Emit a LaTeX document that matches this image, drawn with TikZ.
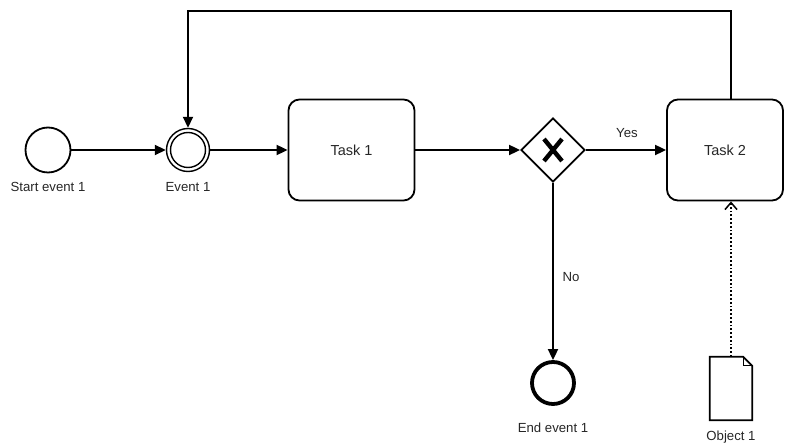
\documentclass[tikz,border=0pt]{standalone}
\usepackage{fontspec}
\setmainfont{Liberation Sans}
\usetikzlibrary{arrows.meta,shapes.geometric,calc}
\begin{document}
\begin{tikzpicture}[x=1pt,y=-1pt,
  flow/.style={line width=1.8pt,-{Triangle[length=11pt,width=10pt]}},
  lbl/.style={font=\fontsize{13.2}{15}\selectfont,text=black!85,inner sep=1pt},
  taskbox/.style={draw,line width=1.8pt,rounded corners=11pt,font=\fontsize{14.5}{16}\selectfont,text=black!85,inner sep=0pt},
  evt/.style={circle,draw,inner sep=0pt}]
\useasboundingbox (0,0) rectangle (785,443);
% nodes
\node[evt,line width=1.8pt,minimum size=45pt] (start) at (48,150) {};
\node[lbl] (startlbl) at (48,187) {Start event 1};
\node[evt,line width=1.4pt,minimum size=43pt] (ev1) at (188,150) {};
\node[evt,line width=1.4pt,minimum size=35pt] (ev1in) at (188,150) {};
\node[lbl] (ev1lbl) at (188,187) {Event 1};
\node[taskbox,minimum width=126pt,minimum height=101pt] (task1) at (351.5,150) {Task 1};
\node[diamond,draw,line width=1.8pt,minimum width=64pt,minimum height=64pt,inner sep=0pt] (gw) at (553,150) {};
\node[taskbox,minimum width=116pt,minimum height=101pt] (task2) at (725,150) {Task 2};
\node[evt,line width=3.8pt,minimum size=42pt] (end) at (553,383) {};
\node[lbl] (endlbl) at (553,428) {End event 1};
\node[minimum width=42pt,minimum height=63pt,inner sep=0pt] (obj) at (731,388.5) {};
\node[lbl] (objlbl) at (731,437) {Object 1};
% gateway X
\draw[line width=4.4pt] ($(gw)+(-9,-11)$) -- ($(gw)+(9,11)$);
\draw[line width=4.4pt] ($(gw)+(9,-11)$) -- ($(gw)+(-9,11)$);
% document shape
\draw[line width=1.8pt,line join=miter]
  (obj.north west) -- ($(obj.north east)+(-9,0)$) -- ($(obj.north east)+(0,9)$) -- (obj.south east) -- (obj.south west) -- cycle;
\draw[line width=1.2pt,line join=miter]
  ($(obj.north east)+(-9,0)$) -- ($(obj.north east)+(-9,9)$) -- ($(obj.north east)+(0,9)$);
% connectors
\draw[flow] (start) -- (ev1);
\draw[flow] (ev1) -- (task1);
\draw[flow] (task1) -- (gw);
\draw[flow] (gw) -- (task2);
\node[lbl] (yes) at (627,133) {Yes};
\draw[flow] (gw) -- (end);
\node[lbl] (no) at (571,277) {No};
\coordinate (lp1) at (731,11);
\coordinate (lp2) at (188,11);
\draw[flow] (task2.north -| lp1) -- (lp1) -- (lp2) -- (ev1.north);
\draw[line width=1.8pt,dotted,-{Straight Barb[length=7pt,width=12pt,line width=1.5pt]}] (obj.north) -- (task2.south -| obj.north);
\end{tikzpicture}
\end{document}
